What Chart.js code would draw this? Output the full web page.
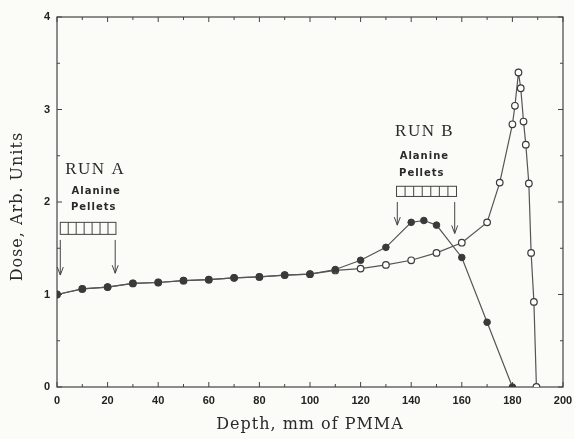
<!DOCTYPE html>
<html>
<head>
<meta charset="utf-8">
<script src="https://cdn.jsdelivr.net/npm/chart.js@4/dist/chart.umd.min.js"></script>
<style>
  html, body { margin: 0; padding: 0; background: #fbfbf7; }
  #wrap { width: 574px; height: 439px; }
</style>
</head>
<body>
<div id="wrap"><canvas id="chart" width="574" height="439"></canvas></div>
<script>
// depth in mm of PMMA, dose in arbitrary units
const filledDepth = [0, 10, 20, 30, 40, 50, 60, 70, 80, 90, 100, 110, 120, 130, 140, 145, 150, 160, 170, 180]
const filledDose  = [1.00, 1.06, 1.08, 1.12, 1.13, 1.15, 1.16, 1.18, 1.19, 1.21, 1.22, 1.27, 1.37, 1.51, 1.78, 1.80, 1.75, 1.40, 0.70, 0]

const openDepth = [0, 10, 20, 30, 40, 50, 60, 70, 80, 90, 100, 110, 120, 130, 140, 150, 160, 170, 175, 180, 181, 182.4, 183.3, 184.4, 185.3, 186.5, 187.4, 188.5, 189.5]
const openDose  = [1.00, 1.06, 1.08, 1.12, 1.13, 1.15, 1.16, 1.18, 1.19, 1.21, 1.22, 1.26, 1.28, 1.32, 1.37, 1.45, 1.56, 1.78, 2.21, 2.84, 3.04, 3.40, 3.23, 2.87, 2.62, 2.20, 1.45, 0.92, 0]

const xTicks = [0, 20, 40, 60, 80, 100, 120, 140, 160, 180, 200]
const yTicks = [0, 1, 2, 3, 4]

// annotations, in data units: [label, x, y]
const runLabels = [['RUN A', 15.1, 2.35], ['RUN B', 145.3, 2.76]]
const pelletLabels = [['Alanine', 15.5, 2.11], ['Pellets', 14.5, 1.94], ['Alanine', 145.2, 2.49], ['Pellets', 144.2, 2.31]]
// pellet stacks: [xStart, xEnd, yTop, yBottom]
const pelletBoxes = [[1.3, 23.3, 1.78, 1.65], [134.2, 157.9, 2.17, 2.06]]
// arrows: [x, yFrom, yTo]
const arrows = [[1.3, 1.59, 1.21], [23.0, 1.59, 1.23], [134.5, 2.0, 1.75], [157.2, 2.0, 1.66]]

const toPoints = (xs, ys) => xs.map((x, i) => ({x: x, y: ys[i]}))

const ink = '#3a3a3a'

const background = {
  id: 'background',
  beforeDraw(chart) {
    const ctx = chart.ctx
    ctx.save()
    ctx.fillStyle = '#fbfbf7'
    ctx.fillRect(0, 0, chart.width, chart.height)
    ctx.restore()
  }
}

const frame = {
  id: 'frame',
  beforeDatasetsDraw(chart) {
    const {ctx, chartArea: a, scales: {x, y}} = chart
    ctx.save()
    ctx.strokeStyle = '#444'
    ctx.lineWidth = 1.2
    ctx.strokeRect(a.left, a.top, a.right - a.left, a.bottom - a.top)
    ctx.lineWidth = 1
    ctx.beginPath()
    for (let v = 0; v <= 200; v += 10) {
      const px = x.getPixelForValue(v)
      const len = v % 20 === 0 ? 5 : 3
      ctx.moveTo(px, a.bottom); ctx.lineTo(px, a.bottom - len)
      ctx.moveTo(px, a.top); ctx.lineTo(px, a.top + len)
    }
    for (let v = 0; v <= 4; v += 0.5) {
      const py = y.getPixelForValue(v)
      const len = v % 1 === 0 ? 5 : 3
      ctx.moveTo(a.left, py); ctx.lineTo(a.left + len, py)
      ctx.moveTo(a.right, py); ctx.lineTo(a.right - len, py)
    }
    ctx.stroke()
    ctx.restore()
  },
  afterDatasetsDraw(chart) {
    const {ctx, chartArea: a, scales: {x, y}} = chart
    ctx.save()
    ctx.fillStyle = '#2a2a2a'
    ctx.textAlign = 'center'
    ctx.textBaseline = 'middle'

    // axis titles
    ctx.font = '16px "DejaVu Serif"'
    ctx.letterSpacing = '1px'
    ctx.fillText('Depth, mm of PMMA', (a.left + a.right) / 2, 425)
    ctx.save()
    ctx.translate(18, y.getPixelForValue(1.95))
    ctx.rotate(-Math.PI / 2)
    ctx.fillText('Dose, Arb. Units', 0, 0)
    ctx.restore()

    // run labels
    ctx.font = '17px "Liberation Serif"'
    ctx.letterSpacing = '1.5px'
    runLabels.forEach(([t, vx, vy]) => ctx.fillText(t, x.getPixelForValue(vx), y.getPixelForValue(vy)))
    ctx.font = 'bold 10px "DejaVu Sans"'
    ctx.letterSpacing = '1px'
    pelletLabels.forEach(([t, vx, vy]) => ctx.fillText(t, x.getPixelForValue(vx), y.getPixelForValue(vy)))
    ctx.letterSpacing = '0px'

    // pellet stacks, 7 pellets each
    ctx.strokeStyle = '#444'
    ctx.lineWidth = 1
    pelletBoxes.forEach(([x0, x1, y0, y1]) => {
      const l = x.getPixelForValue(x0), r = x.getPixelForValue(x1)
      const t = y.getPixelForValue(y0), b = y.getPixelForValue(y1)
      ctx.strokeRect(l, t, r - l, b - t)
      ctx.beginPath()
      for (let i = 1; i < 7; i++) {
        const px = l + (r - l) * i / 7
        ctx.moveTo(px, t); ctx.lineTo(px, b)
      }
      ctx.stroke()
    })

    // arrows
    arrows.forEach(([vx, y0, y1]) => {
      const px = x.getPixelForValue(vx)
      const t = y.getPixelForValue(y0), b = y.getPixelForValue(y1)
      ctx.beginPath()
      ctx.moveTo(px, t); ctx.lineTo(px, b)
      ctx.moveTo(px - 3, b - 8); ctx.lineTo(px, b); ctx.lineTo(px + 3, b - 8)
      ctx.stroke()
    })
    ctx.restore()
  }
}

new Chart(document.getElementById('chart'), {
  type: 'scatter',
  data: {
    datasets: [
      {
        label: 'filled',
        data: toPoints(filledDepth, filledDose),
        showLine: true,
        borderColor: '#555',
        borderWidth: 1.2,
        pointBackgroundColor: ink,
        pointBorderColor: ink,
        pointRadius: 3.3,
        pointBorderWidth: 1,
        order: 0
      },
      {
        label: 'open',
        data: toPoints(openDepth, openDose),
        showLine: true,
        borderColor: '#555',
        borderWidth: 1.2,
        pointBackgroundColor: '#ffffff',
        pointBorderColor: ink,
        pointRadius: 3.3,
        pointBorderWidth: 1.2,
        order: 1
      }
    ]
  },
  options: {
    responsive: false,
    animation: false,
    layout: { padding: { top: 17, right: 11, left: 0, bottom: 0 } },
    plugins: {
      legend: { display: false },
      tooltip: { enabled: false }
    },
    scales: {
      x: {
        type: 'linear',
        min: 0,
        max: 200,
        grid: { display: false, drawTicks: false },
        border: { display: false },
        afterBuildTicks: (s) => { s.ticks = xTicks.map(v => ({value: v})) },
        afterFit: (s) => { s.height = 52; s.paddingLeft = 0; s.paddingRight = 0 },
        ticks: {
          padding: 7,
          color: '#222',
          font: { family: 'Liberation Sans', weight: 'bold', size: 11 }
        }
      },
      y: {
        type: 'linear',
        min: 0,
        max: 4,
        grid: { display: false, drawTicks: false },
        border: { display: false },
        afterBuildTicks: (s) => { s.ticks = yTicks.map(v => ({value: v})) },
        afterFit: (s) => { s.width = 57; s.paddingTop = 0; s.paddingBottom = 0 },
        ticks: {
          padding: 7,
          color: '#222',
          font: { family: 'Liberation Sans', weight: 'bold', size: 11 }
        }
      }
    }
  },
  plugins: [background, frame]
})
</script>
</body>
</html>
